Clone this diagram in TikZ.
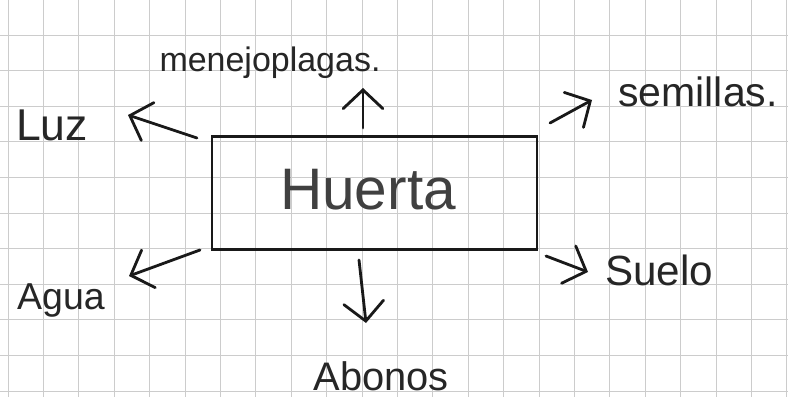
\documentclass[tikz,border=0pt]{standalone}
\usepackage{fontspec}
\setmainfont{Liberation Sans}
\usetikzlibrary{arrows.meta}
\tikzset{
  gridline/.style={draw=black!20, line width=0.7pt},
  boxstyle/.style={draw=black!90, line width=2.4pt, minimum width=9.75cm, minimum height=3.39cm, inner sep=0pt},
  lbl/.style={text=black!85, inner sep=0pt},
  arr/.style={draw=black!90, line width=2.4pt, line cap=round, -{Straight Barb[length=16pt, width=34pt, line cap=round]}}
}
\begin{document}
\begin{tikzpicture}[x=0.03cm, y=-0.03cm]
\fill[white] (0,0) rectangle (788,397);
\useasboundingbox (0,0) rectangle (788,397);
% grid paper
\foreach \i in {0,...,22} { \draw[gridline] (8+35.4*\i,0) -- (8+35.4*\i,397); }
\foreach \j in {1,...,11} { \draw[gridline] (0,-0.6+35.6*\j) -- (788,-0.6+35.6*\j); }
% central box
\node[boxstyle] (box) at (374.5,193) {};
\node[lbl, text=black!75, font=\fontsize{50}{60}\selectfont] (huerta) at (368,190) {Huerta};
% labels
\node[lbl, font=\fontsize{29}{34}\selectfont] (plagas) at (270,63) {menejoplagas.};
\node[lbl, font=\fontsize{38}{44}\selectfont] (luz) at (52,125) {Luz};
\node[lbl, font=\fontsize{35}{40}\selectfont] (semillas) at (698,92) {semillas.};
\node[lbl, font=\fontsize{32}{38}\selectfont] (agua) at (61,300) {Agua};
\node[lbl, font=\fontsize{34}{40}\selectfont] (abonos) at (381,376) {Abonos};
\node[lbl, font=\fontsize{36}{42}\selectfont] (suelo) at (659,270) {Suelo};
% arrow ends
\coordinate (pS) at (363,128); \coordinate (pT) at (363,88);
\coordinate (lS) at (197,138); \coordinate (lT) at (128,115);
\coordinate (sS) at (550,123); \coordinate (sT) at (592,100);
\coordinate (aS) at (200,250); \coordinate (aT) at (129,276);
\coordinate (bS) at (359,260); \coordinate (bT) at (366,323);
\coordinate (uS) at (546,256); \coordinate (uT) at (588,272);
\draw[arr] (pS) -- (pT);
\draw[arr] (lS) -- (lT);
\draw[arr] (sS) -- (sT);
\draw[arr] (aS) -- (aT);
\draw[arr] (bS) -- (bT);
\draw[arr] (uS) -- (uT);
\end{tikzpicture}
\end{document}
